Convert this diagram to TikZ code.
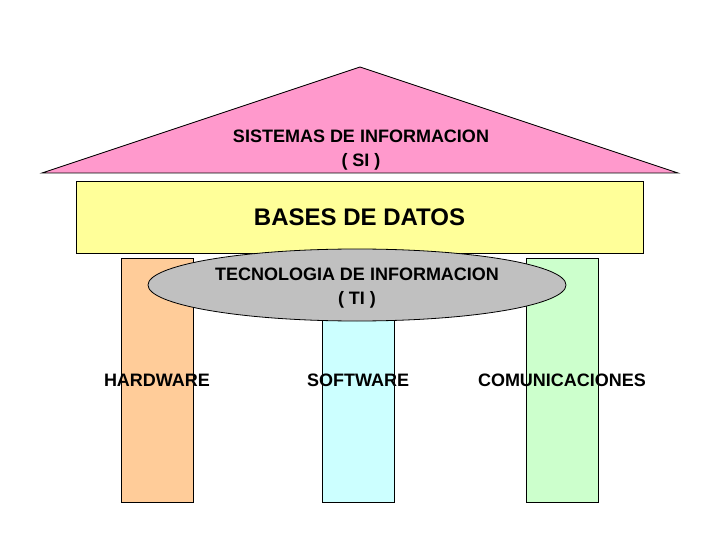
\documentclass[tikz,border=0pt]{standalone}
\usepackage{fontspec}
\setmainfont{Liberation Sans}
\usetikzlibrary{
	shapes.geometric,
	calc}

\definecolor{roofpink}{HTML}{FF99CC}
\definecolor{basesyellow}{HTML}{FFFF99}
\definecolor{hwcolor}{HTML}{FFCC99}
\definecolor{swcolor}{HTML}{CCFFFF}
\definecolor{comcolor}{HTML}{CCFFCC}
\definecolor{ticolor}{HTML}{C0C0C0}

\tikzset{
	label18/.style={font=\fontsize{18}{24}\selectfont\bfseries, align=center, inner sep=0pt},
	pillar/.style={draw=black, line width=0.8pt, minimum width=72pt, minimum height=244pt, inner sep=0pt}}

\begin{document}
\begin{tikzpicture}[x=1pt,y=-1pt]
    \useasboundingbox (0,0) rectangle (720,540);

    \draw [fill=roofpink, line width=0.8pt] (42,173) -- (360,67) -- (678,173) -- cycle;
    \node[label18] (SI) at (361,150) {SISTEMAS DE INFORMACION\\( SI )};

    \node[draw, fill=basesyellow, line width=0.8pt, minimum width=567pt, minimum height=72pt,
          font=\fontsize{24}{28}\selectfont\bfseries] (BD) at (359.5,217) {BASES DE DATOS};

    \node[pillar, fill=hwcolor] (HW) at (157,380) {};
    \node[pillar, fill=swcolor] (SW) at (358,380) {};
    \node[pillar, fill=comcolor] (COM) at (562,380) {};
    \node[label18] (HWL) at (HW) {HARDWARE};
    \node[label18] (SWL) at (SW) {SOFTWARE};
    \node[label18] (COML) at (COM) {COMUNICACIONES};

    \node[ellipse, draw, fill=ticolor, line width=0.8pt, minimum width=418pt, minimum height=72pt, inner sep=0pt] (TI) at (357,285) {};
    \node[label18] (TIL) at ($(TI)+(0,3)$) {TECNOLOGIA DE INFORMACION\\( TI )};
\end{tikzpicture}
\end{document}
